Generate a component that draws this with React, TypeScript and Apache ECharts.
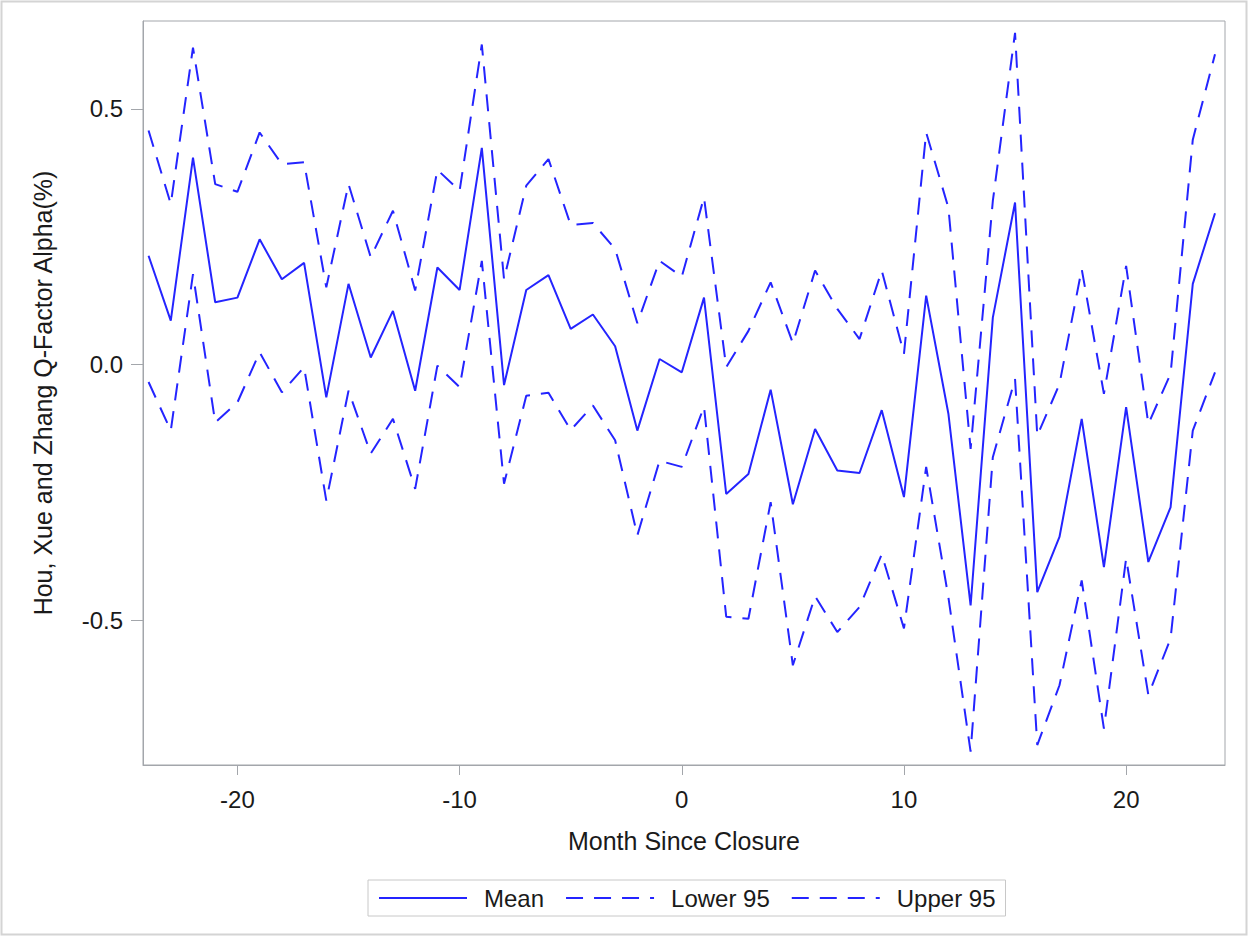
import React, { useEffect, useRef } from "react";
import * as echarts from "echarts";

const months = [
  -24, -23, -22, -21, -20, -19, -18, -17, -16, -15, -14, -13, -12, -11, -10, -9, -8, -7, -6, -5, -4, -3, -2, -1, 0,
  1, 2, 3, 4, 5, 6, 7, 8, 9, 10, 11, 12, 13, 14, 15, 16, 17, 18, 19, 20, 21, 22, 23, 24,
];

const meanValues = [
  0.213, 0.086, 0.405, 0.122, 0.131, 0.245, 0.167, 0.199, -0.064, 0.158, 0.014, 0.105, -0.051, 0.19, 0.146, 0.424,
  -0.04, 0.146, 0.175, 0.07, 0.098, 0.036, -0.129, 0.011, -0.015, 0.131, -0.253, -0.214, -0.049, -0.273, -0.126,
  -0.207, -0.212, -0.089, -0.259, 0.135, -0.096, -0.471, 0.092, 0.317, -0.445, -0.337, -0.106, -0.396, -0.083,
  -0.386, -0.279, 0.158, 0.296,
];

const lowerValues = [
  -0.034, -0.129, 0.177, -0.113, -0.074, 0.024, -0.054, -0.005, -0.266, -0.051, -0.174, -0.106, -0.243, -0.002,
  -0.044, 0.203, -0.233, -0.061, -0.055, -0.128, -0.08, -0.148, -0.334, -0.188, -0.2, -0.082, -0.493, -0.497,
  -0.269, -0.588, -0.453, -0.523, -0.474, -0.371, -0.516, -0.2, -0.455, -0.757, -0.181, -0.028, -0.744, -0.627,
  -0.422, -0.712, -0.379, -0.646, -0.536, -0.129, -0.015,
];

const upperValues = [
  0.458, 0.314, 0.62, 0.353, 0.338, 0.454, 0.392, 0.396, 0.151, 0.353, 0.21, 0.301, 0.145, 0.381, 0.34, 0.626,
  0.167, 0.35, 0.402, 0.273, 0.277, 0.226, 0.081, 0.203, 0.172, 0.327, -0.005, 0.066, 0.161, 0.042, 0.184, 0.109,
  0.05, 0.184, 0.021, 0.454, 0.307, -0.165, 0.32, 0.649, -0.139, -0.038, 0.187, -0.057, 0.193, -0.116, -0.018,
  0.44, 0.607,
];

const xTicks = [-20, -10, 0, 10, 20];
const yTicks = [-0.5, 0, 0.5];
const seriesNames = ["Mean", "Lower 95", "Upper 95"];

const FONT = "'Liberation Sans', Arial, sans-serif";
const BLUE = "#2424ff";
const AXIS_GRAY = "#a3a6ab";
const TEXT = "#1a1a1a";

export default function App() {
  const ref = useRef<HTMLDivElement>(null);

  useEffect(() => {
    if (!ref.current) return;
    const chart = echarts.init(ref.current, null, { renderer: "svg" });
    const pair = (vals: number[]) => months.map((m, i) => [m, vals[i]]);
    const dash = [17, 11];
    chart.setOption({
      animation: false,
      backgroundColor: "#fff",
      textStyle: { fontFamily: FONT },
      graphic: [
        {
          type: "rect",
          shape: { x: 1.5, y: 1.5, width: 1245, height: 933 },
          style: { fill: "none", stroke: "#d4d4d4", lineWidth: 2 },
          silent: true,
        },
      ],
      grid: {
        left: 143,
        top: 21,
        width: 1082,
        height: 744,
        show: true,
        borderColor: AXIS_GRAY,
        borderWidth: 1,
        backgroundColor: "transparent",
      },
      xAxis: {
        type: "value",
        min: -24.25,
        max: 24.45,
        name: "Month Since Closure",
        nameLocation: "middle",
        nameGap: 63,
        nameTextStyle: { fontSize: 25, color: TEXT, fontFamily: FONT },
        axisLine: { show: true, onZero: false, lineStyle: { color: AXIS_GRAY } },
        axisTick: {
          show: true,
          length: 10,
          lineStyle: { color: AXIS_GRAY },
          customValues: xTicks,
        },
        axisLabel: {
          fontSize: 24,
          color: TEXT,
          margin: 22,
          customValues: xTicks,
          formatter: (v: number) => String(v),
        },
        splitLine: { show: false },
      },
      yAxis: {
        type: "value",
        min: -0.783,
        max: 0.672,
        name: "Hou, Xue and Zhang Q-Factor Alpha(%)",
        nameLocation: "middle",
        nameGap: 88,
        nameTextStyle: { fontSize: 25, color: TEXT, fontFamily: FONT },
        axisLine: { show: true, onZero: false, lineStyle: { color: AXIS_GRAY } },
        axisTick: {
          show: true,
          length: 12,
          lineStyle: { color: AXIS_GRAY },
          customValues: yTicks,
        },
        axisLabel: {
          fontSize: 24,
          color: TEXT,
          margin: 20,
          customValues: yTicks,
          formatter: (v: number) => v.toFixed(1),
        },
        splitLine: { show: false },
      },
      legend: {
        left: 368,
        top: 880,
        padding: [6, 10, 6, 10],
        itemGap: 21,
        itemWidth: 88,
        itemHeight: 14,
        borderColor: "#c8c8c8",
        borderWidth: 1,
        itemStyle: { opacity: 0 },
        data: seriesNames,
        textStyle: { fontSize: 24, color: TEXT, fontFamily: FONT, padding: [0, 0, 0, 12] },
      },
      series: [
        {
          name: seriesNames[0],
          type: "line",
          data: pair(meanValues),
          symbol: "none",
          lineStyle: { color: BLUE, width: 2, type: "solid" },
          itemStyle: { color: BLUE },
        },
        {
          name: seriesNames[1],
          type: "line",
          data: pair(lowerValues),
          symbol: "none",
          lineStyle: { color: BLUE, width: 2, type: dash },
          itemStyle: { color: BLUE },
        },
        {
          name: seriesNames[2],
          type: "line",
          data: pair(upperValues),
          symbol: "none",
          lineStyle: { color: BLUE, width: 2, type: dash },
          itemStyle: { color: BLUE },
        },
      ],
    });
    return () => chart.dispose();
  }, []);

  return (
    <div
      ref={ref}
      style={{ position: "absolute", left: 0, top: 0, width: 1248, height: 936, background: "#fff" }}
    />
  );
}
